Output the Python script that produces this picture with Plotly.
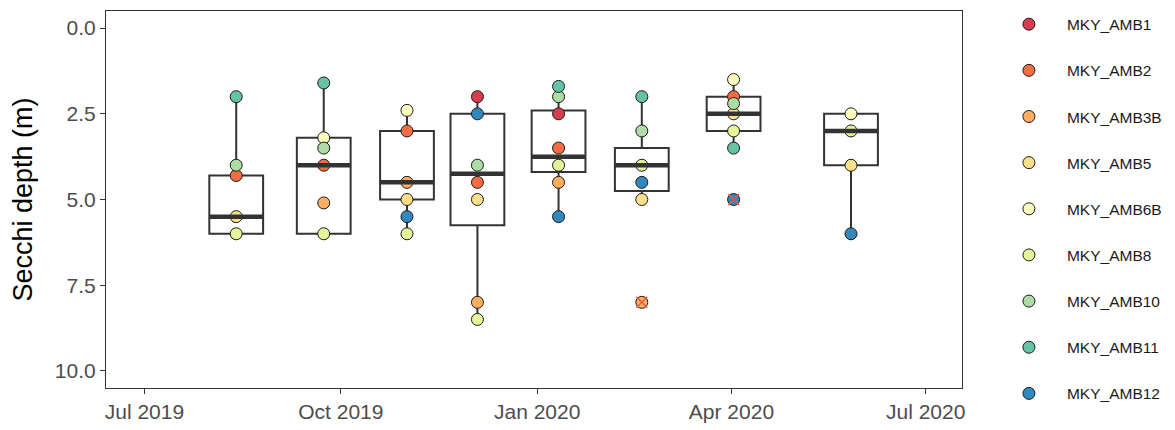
import pandas as pd
import plotly.graph_objects as go

# ---- data ----
dates = ["2019-08-13", "2019-09-23", "2019-11-01", "2019-12-04",
         "2020-01-11", "2020-02-19", "2020-04-02", "2020-05-27"]

stations = ["MKY_AMB1", "MKY_AMB2", "MKY_AMB3B", "MKY_AMB5", "MKY_AMB6B",
            "MKY_AMB8", "MKY_AMB10", "MKY_AMB11", "MKY_AMB12"]
colors = ["#D53E4F", "#F46D43", "#FDAE61", "#FEE08B", "#FFFFBF",
          "#E6F598", "#ABDDA4", "#66C2A5", "#3288BD"]

amb1  = [None, None, None, 2.0, 2.5, None, None, None]
amb2  = [4.3, 4.0, 3.0, 4.5, 3.5, None, 2.0, None]
amb3b = [None, 5.1, 4.5, 8.0, 4.5, 8.0, None, None]
amb5  = [5.5, None, 5.0, 5.0, None, 5.0, 2.5, 4.0]
amb6b = [None, 3.2, 2.4, None, None, None, 1.5, 2.5]
amb8  = [6.0, 6.0, 6.0, 8.5, 4.0, 4.0, 3.0, 3.0]
amb10 = [4.0, 3.5, None, 4.0, 2.0, 3.0, 2.2, None]
amb11 = [2.0, 1.6, None, None, 1.7, 2.0, 3.5, None]
amb12 = [None, None, 5.5, 2.5, 5.5, 4.5, 5.0, 6.0]
series = [amb1, amb2, amb3b, amb5, amb6b, amb8, amb10, amb11, amb12]

# box statistics (depth, m)
whisk_lo = [2.0, 1.6, 2.4, 2.0, 1.7, 2.0, 1.5, 2.5]
q1       = [4.3, 3.2, 3.0, 2.5, 2.4, 3.5, 2.0, 2.5]
median   = [5.5, 4.0, 4.5, 4.25, 3.75, 4.0, 2.5, 3.0]
q3       = [6.0, 6.0, 5.0, 5.75, 4.2, 4.75, 3.0, 4.0]
whisk_hi = [6.0, 6.0, 6.0, 8.5, 5.5, 5.0, 3.5, 6.0]

outlier_dates = ["2020-02-19", "2020-04-02"]
outlier_vals = [8.0, 5.0]

box_days = 25.2
DARK = "#333333"
FONT = "Liberation Sans, Arial, sans-serif"

fig = go.Figure()

# points (drawn first, under the boxes)
for name, col, vals in zip(stations, colors, series):
    xs = [d for d, v in zip(dates, vals) if v is not None]
    ys = [v for v in vals if v is not None]
    fig.add_trace(go.Scatter(
        x=xs, y=ys, mode="markers", name=name, legendgroup=name,
        marker=dict(size=12, color=col, line=dict(width=1, color="#1a1a1a")),
    ))

# boxes
fig.add_trace(go.Box(
    x=dates, q1=q1, median=median, q3=q3,
    lowerfence=whisk_lo, upperfence=whisk_hi,
    width=box_days * 86400000, whiskerwidth=0,
    fillcolor="rgba(0,0,0,0)", line=dict(color=DARK, width=2),
    boxpoints=False, showlegend=False, hoverinfo="skip",
))

# thick median lines
mx, my = [], []
half = pd.Timedelta(days=box_days / 2)
for d, m in zip(dates, median):
    t = pd.Timestamp(d)
    mx += [t - half, t + half, None]
    my += [m, m, None]
fig.add_trace(go.Scatter(x=mx, y=my, mode="lines", line=dict(color=DARK, width=4.5),
                         showlegend=False, hoverinfo="skip"))

# outlier crosses
fig.add_trace(go.Scatter(
    x=outlier_dates, y=outlier_vals, mode="markers", showlegend=False,
    marker=dict(symbol="x-thin-open", size=11, line=dict(width=1.3, color=DARK)),
))

tick_dates = ["2019-07-01", "2019-10-01", "2020-01-01", "2020-04-01", "2020-07-01"]
tick_text = ["Jul 2019", "Oct 2019", "Jan 2020", "Apr 2020", "Jul 2020"]

fig.update_layout(
    width=1175, height=430,
    margin=dict(l=106, r=210, t=8, b=42),
    paper_bgcolor="white", plot_bgcolor="white",
    font=dict(family=FONT, color="#4D4D4D"),
    showlegend=True,
    legend=dict(x=1.0338, y=1.009, xanchor="left", yanchor="top",
                font=dict(size=15.5, color="#1a1a1a", family=FONT),
                tracegroupgap=23, itemwidth=66, maxheight=1000,
                bgcolor="rgba(0,0,0,0)"),
    xaxis=dict(type="date", range=["2019-06-13", "2020-07-18"],
               tickvals=tick_dates, ticktext=tick_text,
               showgrid=False, zeroline=False,
               showline=True, mirror=True, linecolor=DARK, linewidth=1.2,
               ticks="outside", ticklen=5, tickwidth=1.2, tickcolor=DARK,
               tickfont=dict(size=21, color="#4D4D4D")),
    yaxis=dict(range=[10.5, -0.5], tickvals=[0, 2.5, 5, 7.5, 10], tickformat=".1f",
               showgrid=False, zeroline=False,
               showline=True, mirror=True, linecolor=DARK, linewidth=1.2,
               ticks="outside", ticklen=5, tickwidth=1.2, tickcolor=DARK,
               tickfont=dict(size=21, color="#4D4D4D"),
               title=dict(text="Secchi depth (m)", font=dict(size=27, color="black"),
                          standoff=14)),
)

fig.write_html("out.html")
